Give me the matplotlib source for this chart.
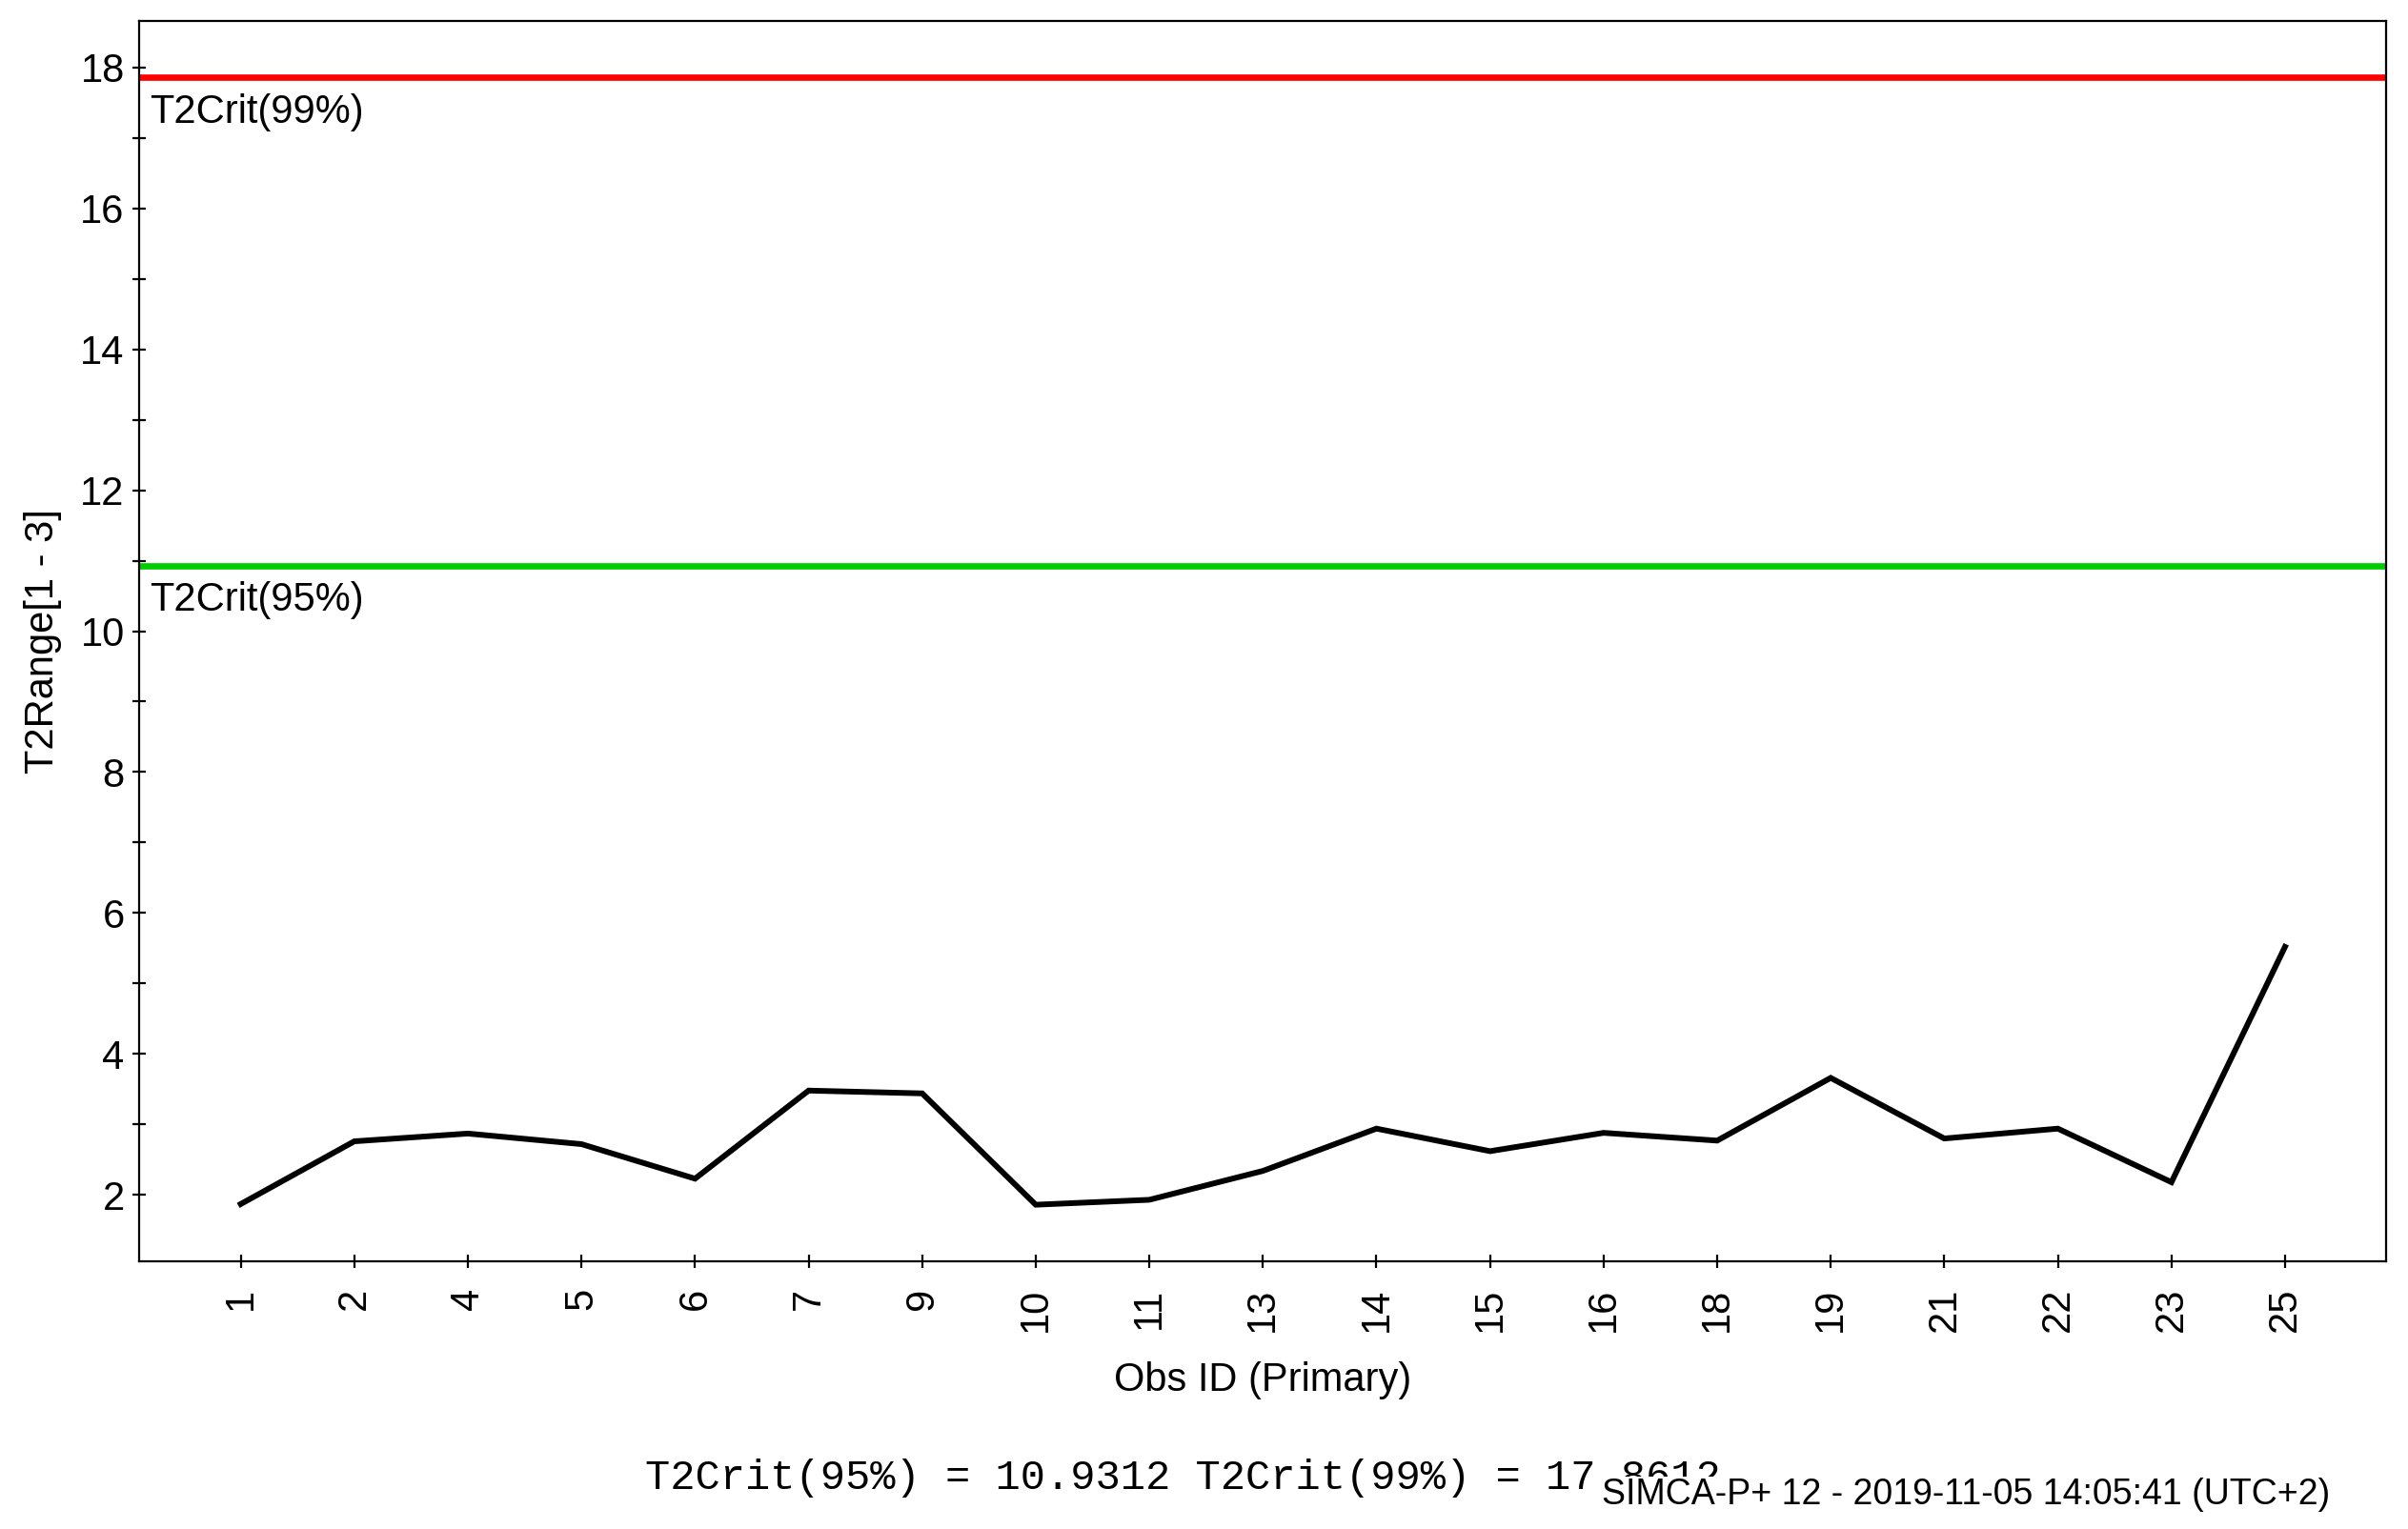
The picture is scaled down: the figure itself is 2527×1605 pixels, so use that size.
import matplotlib
matplotlib.use("Agg")
import matplotlib.pyplot as plt
from matplotlib.ticker import MultipleLocator
import numpy as np

plt.rcParams['font.family'] = ['Liberation Sans', 'DejaVu Sans']

# data
obs_ids = ['1', '2', '4', '5', '6', '7', '9', '10', '11', '13',
           '14', '15', '16', '18', '19', '21', '22', '23', '25']
t2range = [1.87, 2.76, 2.87, 2.72, 2.23, 3.48, 3.44, 1.86, 1.93, 2.34,
           2.94, 2.62, 2.88, 2.77, 3.66, 2.80, 2.94, 2.18, 5.52]
t2crit_95 = 10.9312
t2crit_99 = 17.8612

W, H = 2527, 1605
fig = plt.figure(figsize=(W / 100, H / 100), dpi=100)
ax = fig.add_axes([146 / W, 1 - 1324 / H, (2504 - 146) / W, (1324 - 22) / H])

x = np.arange(len(obs_ids))
ax.plot(x, t2range, color='black', lw=4.3, solid_joinstyle='miter', zorder=3)
ax.axhline(t2crit_99, color='#ff0000', lw=4.8, zorder=2)
ax.axhline(t2crit_95, color='#00cc00', lw=4.8, zorder=2)

# labels under the critical lines
for val, name in [(t2crit_99, 'T2Crit(99%)'), (t2crit_95, 'T2Crit(95%)')]:
    ax.annotate(name, xy=(0, val), xycoords=('axes fraction', 'data'),
                xytext=(8, -12), textcoords='offset points',
                ha='left', va='top', fontsize=30)

ax.set_xlim(-0.895, 18.89)
ax.set_ylim(1.057, 18.66)
ax.set_xticks(x)
ax.set_xticklabels(obs_ids, rotation=90)
ax.yaxis.set_major_locator(MultipleLocator(2))
ax.yaxis.set_minor_locator(MultipleLocator(1))

ax.tick_params(axis='both', which='both', direction='inout', length=10,
               width=1.6, labelsize=30)
ax.tick_params(axis='x', pad=15)
ax.tick_params(axis='y', pad=6)
for s in ax.spines.values():
    s.set_linewidth(1.6)

ax.set_xlabel('Obs ID (Primary)', fontsize=30, labelpad=22)
ax.set_ylabel('T2Range[1 - 3]', fontsize=30, labelpad=14)

fig.text(677 / W, 1 - 1563 / H,
         'T2Crit(95%%) = %.4f T2Crit(99%%) = %.4f' % (t2crit_95, t2crit_99),
         family='Liberation Mono', fontsize=31.5, va='baseline', ha='left',
         zorder=1)
fig.text(1681 / W, 1 - 1579 / H, 'SIMCA-P+ 12 - 2019-11-05 14:05:41 (UTC+2)',
         fontsize=27, va='baseline', ha='left', zorder=5,
         bbox=dict(facecolor='white', edgecolor='none', pad=1))

fig.savefig('out.png', dpi=100)
